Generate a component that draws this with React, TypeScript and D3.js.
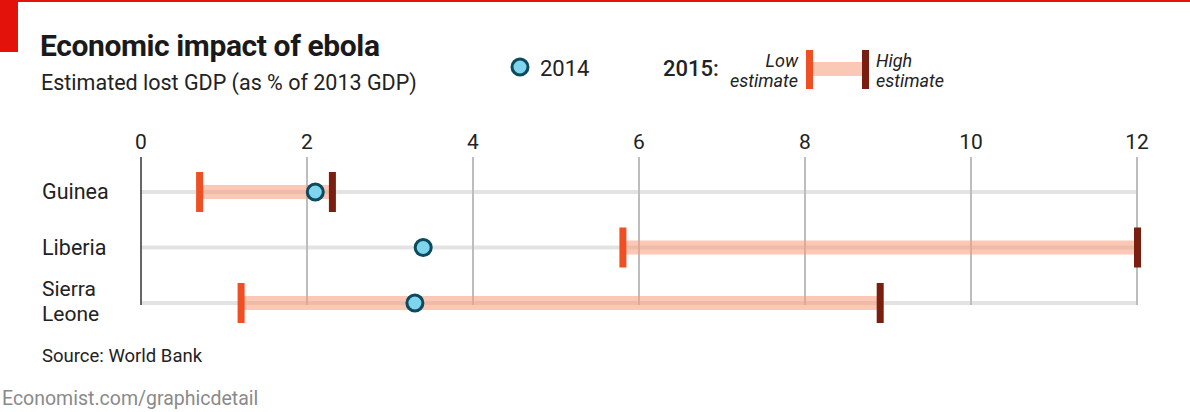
import { scaleLinear, scalePoint } from "d3";

// Economist-style range chart: ebola economic impact

const countries = ["Guinea", "Liberia", "Sierra Leone"];
const est2014 = [2.1, 3.4, 3.3];
const low2015 = [0.7, 5.8, 1.2];
const high2015 = [2.3, 12, 8.9];
const ticks = [0, 2, 4, 6, 8, 10, 12];

const W = 1190;
const H = 412;
const FONT = "Roboto, 'Open Sans', sans-serif";
const LOW = "#f04e23";
const HIGH = "#7a1f0f";
const PINK = "#fa9b7a";

const App = () => {
  const x = scaleLinear().domain([0, 12]).range([141, 1137]);
  const y = scalePoint<string>().domain(countries).range([192, 303]);

  return (
    <svg
      width={W}
      height={H}
      style={{ position: "absolute", left: 0, top: 0, background: "#fff" }}
      fontFamily={FONT}
    >
      {/* header decoration */}
      <rect x={0} y={0} width={W} height={2} fill="#e3120b" />
      <rect x={0} y={0} width={18} height={52} fill="#e3120b" />

      <text x={40} y={56} fontSize={30} fontWeight={700} fill="#1a1a1a" letterSpacing={-0.4}>
        Economic impact of ebola
      </text>
      <text x={41} y={90} fontSize={21.5} fill="#222">
        Estimated lost GDP (as % of 2013 GDP)
      </text>

      {/* legend */}
      <circle cx={520} cy={67} r={8} fill="#7fd4ee" stroke="#0c4a5e" strokeWidth={3} />
      <text x={540} y={76} fontSize={22} fill="#222">2014</text>
      <text x={663} y={76} fontSize={22} fontWeight={500} fill="#222">2015:</text>
      <text x={798} y={67} fontSize={18} fontStyle="italic" textAnchor="end" fill="#222">Low</text>
      <text x={798} y={87} fontSize={18} fontStyle="italic" textAnchor="end" fill="#222">estimate</text>
      <rect x={810} y={62} width={55} height={14} fill={PINK} opacity={0.55} />
      <rect x={806} y={50} width={7} height={39} fill={LOW} />
      <rect x={862} y={50} width={7} height={39} fill={HIGH} />
      <text x={876} y={67} fontSize={18} fontStyle="italic" fill="#222">High</text>
      <text x={876} y={87} fontSize={18} fontStyle="italic" fill="#222">estimate</text>

      {/* row lines */}
      {countries.map((c) => (
        <line key={c} x1={x(0)} x2={x(12)} y1={y(c)} y2={y(c)} stroke="#e3e3e3" strokeWidth={4} />
      ))}

      {/* grid + tick labels */}
      {ticks.map((t) => (
        <g key={t}>
          {t > 0 && (
            <line x1={x(t)} x2={x(t)} y1={157} y2={305} stroke="#bdbdbd" strokeWidth={2} />
          )}
          <text x={x(t)} y={149} fontSize={21} textAnchor="middle" fill="#222">
            {t}
          </text>
        </g>
      ))}
      <line x1={x(0)} x2={x(0)} y1={157} y2={305} stroke="#333" strokeWidth={1.5} />

      {/* ranges */}
      {countries.map((c, i) => {
        const cy = y(c)!;
        return (
          <g key={c}>
            <rect
              x={x(low2015[i])}
              y={cy - 7}
              width={x(high2015[i]) - x(low2015[i])}
              height={14}
              fill={PINK}
              opacity={0.55}
            />
            <rect x={x(low2015[i]) - 3} y={cy - 20} width={7} height={40} fill={LOW} />
            <rect x={x(high2015[i]) - 3} y={cy - 20} width={7} height={40} fill={HIGH} />
            <circle cx={x(est2014[i])} cy={cy} r={8} fill="#7fd4ee" stroke="#0c4a5e" strokeWidth={3} />
          </g>
        );
      })}

      {/* row labels */}
      <text x={42} y={199} fontSize={21.5} fill="#222">Guinea</text>
      <text x={42} y={255} fontSize={21.5} fill="#222">Liberia</text>
      <text x={42} y={296} fontSize={21} fill="#222">Sierra</text>
      <text x={42} y={321} fontSize={21} fill="#222">Leone</text>

      {/* footer */}
      <text x={42} y={362} fontSize={18.5} fill="#222">Source: World Bank</text>
      <text x={2} y={405} fontSize={19.5} fill="#8a8a8a">Economist.com/graphicdetail</text>
    </svg>
  );
};

export default App;
